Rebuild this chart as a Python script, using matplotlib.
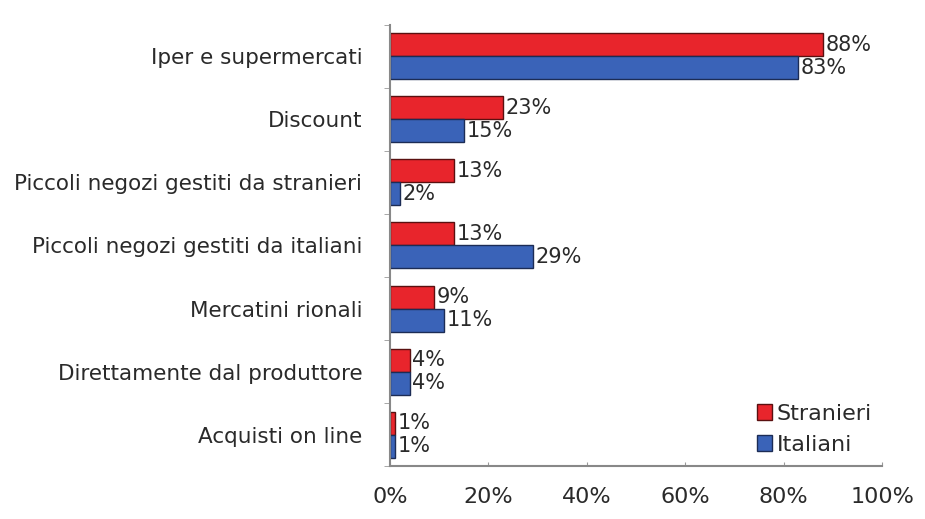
import matplotlib.pyplot as plt
import numpy as np

# Canali d'acquisto: quota di stranieri e italiani
categorie = [
    "Iper e supermercati",
    "Discount",
    "Piccoli negozi gestiti da stranieri",
    "Piccoli negozi gestiti da italiani",
    "Mercatini rionali",
    "Direttamente dal produttore",
    "Acquisti on line",
]
stranieri = [88, 23, 13, 13, 9, 4, 1]
italiani = [83, 15, 2, 29, 11, 4, 1]
tick_x = [0, 20, 40, 60, 80, 100]

ROSSO = "#e8252c"
BLU = "#3a63b8"
TESTO = "#2a2a2a"

plt.rcParams['font.family'] = ['DejaVu Sans']

fig = plt.figure(figsize=(9.25, 5.19), dpi=100)
ax = fig.add_axes([0.4216, 0.102, 0.532, 0.850])

y = np.arange(len(categorie))
h = 0.365
b1 = ax.barh(y - h / 2, stranieri, height=h, color=ROSSO, edgecolor="#5a1010",
             linewidth=1.0, label="Stranieri")
b2 = ax.barh(y + h / 2, italiani, height=h, color=BLU, edgecolor="#1c2c55",
             linewidth=1.0, label="Italiani")

for bars, vals in ((b1, stranieri), (b2, italiani)):
    for bar, v in zip(bars, vals):
        ax.text(v + 0.5, bar.get_y() + bar.get_height() / 2, f"{v}%",
                va="center", ha="left", fontsize=15, color=TESTO)

ax.set_ylim(len(categorie) - 0.5, -0.5)
ax.set_xlim(0, 100)
ax.set_yticks(y)
ax.set_yticklabels(categorie, fontsize=15.5, color=TESTO)
ax.set_xticks(tick_x)
ax.set_xticklabels([f"{t}%" for t in tick_x], fontsize=16, color=TESTO)
ax.tick_params(axis="y", length=0, pad=20)
ax.tick_params(axis="x", length=3, direction="in", color="#999999", pad=15)
ax.set_yticks(np.arange(len(categorie) + 1) - 0.5, minor=True)
ax.tick_params(axis="y", which="minor", length=4, color="#999999")

for s in ("top", "right"):
    ax.spines[s].set_visible(False)
for s in ("left", "bottom"):
    ax.spines[s].set_color("#888888")
    ax.spines[s].set_linewidth(1.5)

leg = ax.legend(loc="lower right", frameon=False, fontsize=16, handlelength=0.7,
                handleheight=0.7, handletextpad=0.2, labelspacing=0.5,
                bbox_to_anchor=(1.02, -0.02))
for t in leg.get_texts():
    t.set_color(TESTO)

fig.savefig("out.png", dpi=100)
